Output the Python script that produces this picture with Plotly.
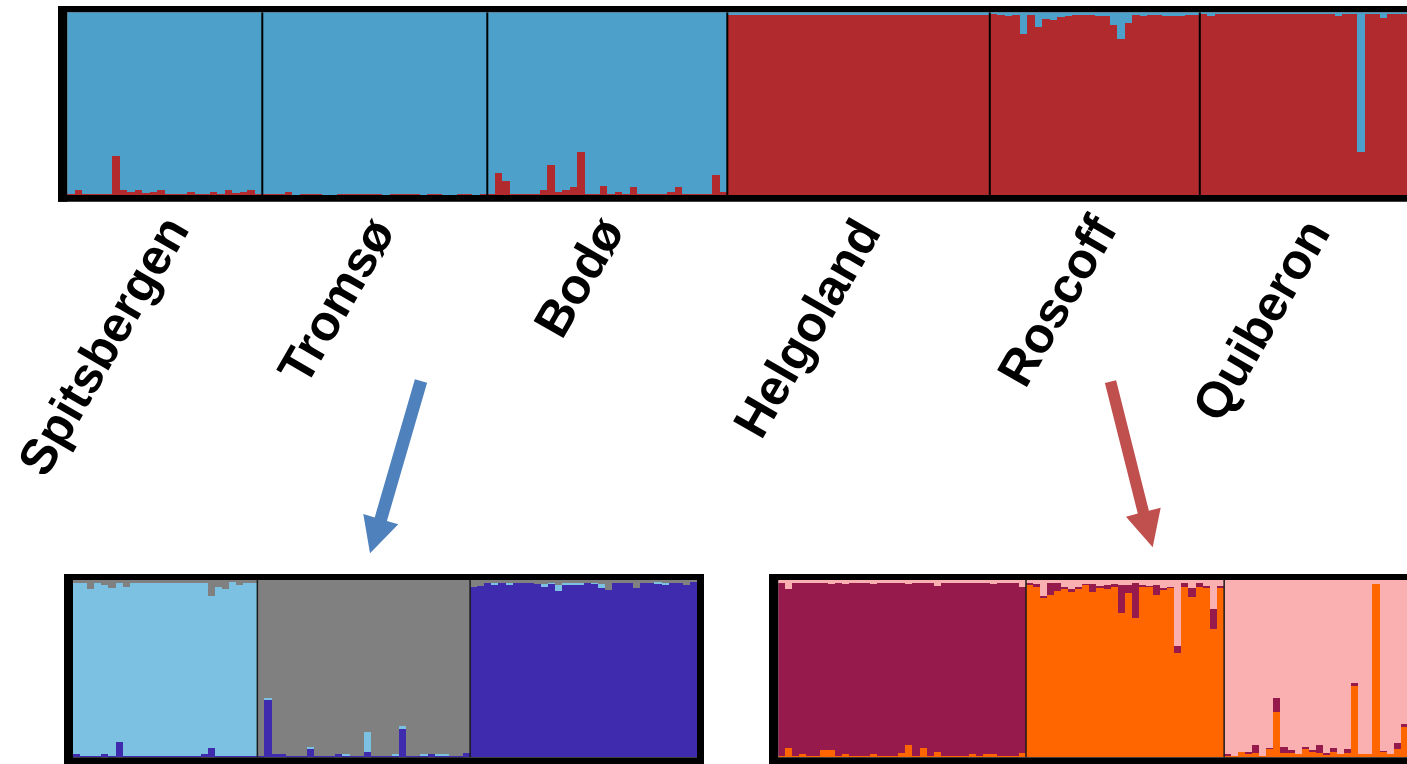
import plotly.graph_objects as go

W, H = 1407, 764

# ---------------- data ----------------
populations = ["Spitsbergen", "Tromsø", "Bodø", "Helgoland", "Roscoff", "Quiberon"]

# K=2 (top panel): minority share per individual
k2_red_spitsbergen = [0.005, 0.025, 0.005, 0.005, 0.005, 0.005, 0.21, 0.025, 0.015, 0.025, 0.008, 0.015, 0.025,
                      0.005, 0.005, 0.005, 0.015, 0.005, 0.005, 0.015, 0.005, 0.025, 0.008, 0.015, 0.025, 0.005]
k2_red_tromso = [0.005, 0.005, 0.005, 0.015, 0, 0.005, 0.005, 0.005, 0, 0, 0.005, 0.005, 0.005, 0.005, 0.005,
                 0.005, 0, 0.005, 0.005, 0.005, 0.005, 0, 0.005, 0.005, 0, 0, 0.005, 0.005, 0, 0.005]
k2_red_bodo = [0.005, 0.12, 0.075, 0.005, 0.005, 0.005, 0.005, 0.025, 0.165, 0.015, 0.025, 0.04, 0.235, 0.005,
               0.005, 0.05, 0.005, 0.015, 0.005, 0.04, 0.005, 0.005, 0.005, 0.005, 0.015, 0.04, 0.005, 0.005,
               0.005, 0.005, 0.11, 0.015]
k2_blue_helgoland = [0.015] * 35
k2_blue_roscoff = [0.01, 0.015, 0.024, 0.015, 0.12, 0.018, 0.08, 0.037, 0.042, 0.027, 0.024, 0.018, 0.018, 0.018,
                   0.024, 0.024, 0.07, 0.15, 0.06, 0.018, 0.024, 0.018, 0.018, 0.024, 0.024, 0.024, 0.018, 0.018]
k2_blue_quiberon = [0.01, 0.024, 0.01, 0.01, 0.01, 0.01, 0.01, 0.01, 0.01, 0.01, 0.006, 0.01, 0.006, 0.01, 0.01,
                    0.01, 0.01, 0.01, 0.024, 0.01, 0.01, 0.765, 0.01, 0.01, 0.033, 0.01, 0.01, 0.01]

# K=3 northern populations (bottom-left)
n_purple_spitsbergen = [0.017, 0.008, 0.008, 0.008, 0.017, 0.008, 0.085, 0.008, 0.008, 0.008, 0.008, 0.008, 0.008,
                        0.008, 0.008, 0.008, 0.008, 0.008, 0.017, 0.05, 0.008, 0.008, 0.008, 0.008, 0.008, 0.008]
n_grey_spitsbergen = [0.019, 0.019, 0.053, 0.019, 0.028, 0.047, 0.019, 0.038, 0.019, 0.019, 0.019, 0.019, 0.019,
                      0.019, 0.019, 0.019, 0.019, 0.019, 0.019, 0.088, 0.038, 0.053, 0.013, 0.028, 0.019, 0.019]
n_purple_tromso = [0.008, 0.323, 0.017, 0.017, 0.008, 0.008, 0.008, 0.047, 0.008, 0.008, 0.008, 0.017, 0.008, 0.008,
                   0.008, 0.032, 0.008, 0.008, 0.008, 0.008, 0.164, 0.008, 0.008, 0.008, 0.017, 0.008, 0.008, 0.008,
                   0.008, 0.026]
n_lightblue_tromso = [0, 0.013, 0, 0, 0, 0, 0, 0.013, 0, 0, 0, 0, 0.01, 0, 0, 0.113, 0, 0, 0, 0.01, 0.01, 0, 0,
                      0.01, 0, 0.01, 0.01, 0, 0, 0]
n_lightblue_bodo = [0, 0, 0, 0.01, 0, 0.008, 0, 0, 0, 0, 0.018, 0.005, 0.03, 0.008, 0.008, 0.008, 0, 0.005, 0.025,
                    0, 0, 0, 0, 0, 0, 0, 0.008, 0.01, 0, 0, 0, 0]
n_grey_bodo = [0.041, 0.034, 0.015, 0.015, 0.015, 0.015, 0.015, 0.015, 0.015, 0.02, 0.02, 0.015, 0.03, 0.015, 0.015,
               0.015, 0.015, 0.015, 0.02, 0.055, 0.015, 0.015, 0.015, 0.045, 0.015, 0.015, 0.012, 0.015, 0.015,
               0.015, 0.03, 0.012]

# K=3 southern populations (bottom-right)
s_orange_helgoland = [0.008, 0.05, 0.008, 0.017, 0.008, 0.008, 0.041, 0.041, 0.008, 0.017, 0.008, 0.008, 0.008,
                      0.017, 0.008, 0.008, 0.008, 0.026, 0.07, 0.008, 0.05, 0.008, 0.032, 0.008, 0.008, 0.008,
                      0.008, 0.017, 0.008, 0.017, 0.017, 0.008, 0.008, 0.008, 0.026]
s_pink_helgoland = [0.015, 0.05, 0.015, 0.015, 0.015, 0.015, 0.015, 0.024, 0.015, 0.024, 0.015, 0.015, 0.015, 0.024,
                    0.015, 0.015, 0.015, 0.015, 0.024, 0.015, 0.015, 0.015, 0.034, 0.015, 0.015, 0.015, 0.015,
                    0.015, 0.015, 0.015, 0.024, 0.015, 0.015, 0.015, 0.041]
s_pink_roscoff = [0.015, 0.02, 0.09, 0.015, 0.015, 0.04, 0.05, 0.04, 0.02, 0.02, 0.035, 0.028, 0.023, 0.028, 0.03,
                  0.019, 0.028, 0.034, 0.028, 0.047, 0.04, 0.372, 0.019, 0.047, 0.019, 0.034, 0.165, 0.034]
s_magenta_roscoff = [0.015, 0.02, 0.01, 0.07, 0.045, 0.01, 0.015, 0.01, 0.005, 0.05, 0.01, 0.022, 0.011, 0.156,
                     0.045, 0.197, 0.01, 0.005, 0.056, 0.006, 0.005, 0.038, 0.022, 0.047, 0.019, 0.008, 0.113, 0.008]
s_orange_quiberon = [0.008, 0.007, 0.03, 0.022, 0.026, 0.008, 0.05, 0.257, 0.026, 0.026, 0.017, 0.045, 0.032, 0.022,
                     0.017, 0.032, 0.017, 0.026, 0.402, 0.017, 0.017, 0.98, 0.032, 0.017, 0.045, 0.169, 0.01, 0.01]
s_magenta_quiberon = [0.01, 0, 0, 0.01, 0.043, 0, 0.003, 0.075, 0.034, 0.015, 0, 0.015, 0.01, 0.047, 0.01, 0.019, 0,
                      0.019, 0.019, 0, 0, 0, 0.005, 0, 0.034, 0.019, 0, 0]

# ---------------- colours ----------------
BLUE, RED = "#4DA0CA", "#B02A2E"
LIGHTBLUE, GREY, PURPLE = "#7CC0E2", "#808080", "#3F2BAD"
ORANGE, MAGENTA, PINK = "#FF6600", "#971A4C", "#FAB0B0"


def px(x):
    return x / W


def py(y):
    return 1 - y / H


def rest(*lists):
    return [round(1 - sum(v), 4) for v in zip(*lists)]


# top panel components (bottom -> top: red, blue)
top_red = k2_red_spitsbergen + k2_red_tromso + k2_red_bodo + \
    rest(k2_blue_helgoland) + rest(k2_blue_roscoff) + rest(k2_blue_quiberon)
top_blue = rest(k2_red_spitsbergen) + rest(k2_red_tromso) + rest(k2_red_bodo) + \
    k2_blue_helgoland + k2_blue_roscoff + k2_blue_quiberon
top_sizes = [len(k2_red_spitsbergen), len(k2_red_tromso), len(k2_red_bodo),
             len(k2_blue_helgoland), len(k2_blue_roscoff), len(k2_blue_quiberon)]

# bottom-left (bottom -> top: purple, light blue, grey)
n_lightblue_spitsbergen = rest(n_purple_spitsbergen, n_grey_spitsbergen)
n_grey_tromso = rest(n_purple_tromso, n_lightblue_tromso)
n_purple_bodo = rest(n_lightblue_bodo, n_grey_bodo)
bl_purple = n_purple_spitsbergen + n_purple_tromso + n_purple_bodo
bl_light = n_lightblue_spitsbergen + n_lightblue_tromso + n_lightblue_bodo
bl_grey = n_grey_spitsbergen + n_grey_tromso + n_grey_bodo
bl_sizes = [len(n_purple_spitsbergen), len(n_purple_tromso), len(n_lightblue_bodo)]

# bottom-right (bottom -> top: orange, magenta, pink)
s_magenta_helgoland = rest(s_orange_helgoland, s_pink_helgoland)
s_orange_roscoff = rest(s_pink_roscoff, s_magenta_roscoff)
s_pink_quiberon = rest(s_orange_quiberon, s_magenta_quiberon)
br_orange = s_orange_helgoland + s_orange_roscoff + s_orange_quiberon
br_magenta = s_magenta_helgoland + s_magenta_roscoff + s_magenta_quiberon
br_pink = s_pink_helgoland + s_pink_roscoff + s_pink_quiberon
br_sizes = [len(s_orange_helgoland), len(s_pink_roscoff), len(s_orange_quiberon)]

fig = go.Figure()


def add_panel(series, colors, xa, ya):
    n = len(series[0])
    xs = [i + 0.5 for i in range(n)]
    for vals, col in zip(series, colors):
        fig.add_trace(go.Bar(x=xs, y=vals, width=1, marker=dict(color=col, line=dict(width=0)),
                             xaxis=xa, yaxis=ya, showlegend=False, hoverinfo="skip"))


add_panel([top_red, top_blue], [RED, BLUE], "x", "y")
add_panel([bl_purple, bl_light, bl_grey], [PURPLE, LIGHTBLUE, GREY], "x2", "y2")
add_panel([br_orange, br_magenta, br_pink], [ORANGE, MAGENTA, PINK], "x3", "y3")

UNIT_TOP = 7.5
UNIT_BOT = 7.077

ax = dict(visible=False, showgrid=False, zeroline=False, fixedrange=True)
fig.update_layout(
    width=W, height=H, autosize=False,
    margin=dict(l=0, r=0, t=0, b=0, pad=0),
    paper_bgcolor="white", plot_bgcolor="white",
    barmode="stack", bargap=0,
    xaxis=dict(ax, domain=[px(67.3), 1], range=[0, (W - 67.3) / UNIT_TOP], anchor="y"),
    yaxis=dict(ax, domain=[py(195), py(12.3)], range=[0, 1], anchor="x"),
    xaxis2=dict(ax, domain=[px(73), px(697)], range=[0, sum(bl_sizes)], anchor="y2"),
    yaxis2=dict(ax, domain=[py(757.3), py(580)], range=[0, 1], anchor="x2"),
    xaxis3=dict(ax, domain=[px(778.3), 1], range=[0, (W - 778.3) / UNIT_BOT], anchor="y3"),
    yaxis3=dict(ax, domain=[py(757.3), py(580)], range=[0, 1], anchor="x3"),
)

shapes = []


def rect(x0, y0, x1, y1):
    shapes.append(dict(type="rect", xref="paper", yref="paper", x0=px(x0), x1=px(x1), y0=py(y1), y1=py(y0),
                       fillcolor="black", line=dict(width=0), layer="above"))


# panel frames
rect(58, 6, 67.3, 201.7); rect(58, 6, W, 12.3); rect(58, 195, W, 201.7)
rect(64, 574, 73, H); rect(697, 574, 704, H); rect(64, 574, 704, 580); rect(64, 757.3, 704, H)
rect(769, 574, 778.3, H); rect(769, 574, W, 580); rect(769, 757.3, W, H)


def separators(sizes, xr, yr, w, col):
    pos = 0
    for s in sizes[:-1]:
        pos += s
        shapes.append(dict(type="line", xref=xr, yref=yr, x0=pos, x1=pos, y0=0, y1=1,
                           line=dict(color=col, width=w), layer="above"))


separators(top_sizes, "x", "y", 2, "black")
separators(bl_sizes, "x2", "y2", 1.5, "#1a1a1a")
separators(br_sizes, "x3", "y3", 1.5, "#1a1a1a")


def arrow(points, color):
    d = "M " + " L ".join(f"{px(x):.5f},{py(y):.5f}" for x, y in points) + " Z"
    shapes.append(dict(type="path", xref="paper", yref="paper", path=d, fillcolor=color,
                       line=dict(width=0), layer="above"))


arrow([(414.9, 379.2), (427.1, 382.8), (386.9, 521.0), (398.3, 524.3), (370.0, 553.3),
       (363.3, 514.0), (374.7, 517.4)], "#4F81BD")
arrow([(1104.9, 383.1), (1116.1, 380.3), (1148.9, 510.8), (1160.7, 507.7), (1152.7, 547.3),
       (1126.0, 516.7), (1137.8, 513.6)], "#C0504D")

fig.update_layout(shapes=shapes)

# population labels
label_centers = [(103, 346), (336, 301), (579, 277), (807, 328), (1057, 301), (1261, 320)]
for name, (cx, cy) in zip(populations, label_centers):
    fig.add_annotation(text=name, x=px(cx), y=py(cy), xref="paper", yref="paper", showarrow=False,
                       xanchor="center", yanchor="middle", textangle=-60,
                       font=dict(family="Liberation Sans, Arial, sans-serif", size=50, color="black",
                                 weight="bold"))

fig.write_html("out.html", config={"displayModeBar": False},
               post_script="document.body.style.margin='0';document.body.style.overflow='hidden';")
